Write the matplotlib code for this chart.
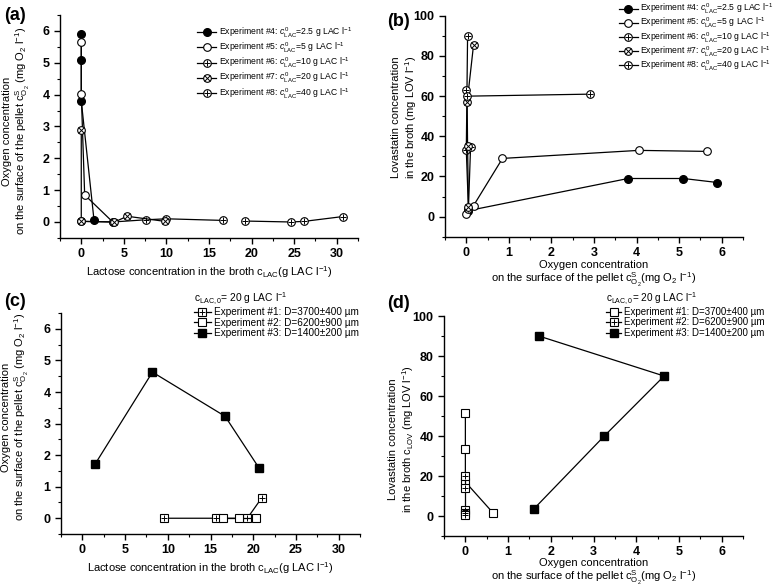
import matplotlib
matplotlib.use("Agg")
import matplotlib.pyplot as plt
from matplotlib.ticker import MultipleLocator
from matplotlib.legend_handler import HandlerTuple

plt.rcParams['font.family'] = ['Liberation Sans', 'DejaVu Sans']
plt.rcParams['mathtext.fontset'] = 'custom'
plt.rcParams['mathtext.rm'] = 'Liberation Sans'
plt.rcParams['mathtext.it'] = 'Liberation Sans:italic'
plt.rcParams['mathtext.bf'] = 'Liberation Sans:bold'

# ---------------- data ----------------
# (a) lactose (x) vs surface oxygen (y)
a_exp4_x = [0, 0, 0, 1.5]
a_exp4_y = [5.9, 5.1, 3.8, 0.05]
a_exp5_x = [0, 0, 0.4, 3.7]
a_exp5_y = [5.65, 4.02, 0.85, 0.0]
a_exp6_x = [0, 3.7, 7.6, 10.0, 16.6]
a_exp6_y = [0.02, 0.0, 0.07, 0.1, 0.05]
a_exp7_x = [0, 0, 3.9, 5.4, 9.8]
a_exp7_y = [2.88, 0.02, 0.0, 0.18, 0.02]
a_exp8_x = [19.2, 24.6, 26.2, 30.7]
a_exp8_y = [0.03, 0.0, 0.02, 0.17]

# (b) surface oxygen (x) vs lovastatin (y)
b_exp4_x = [0.05, 3.8, 5.1, 5.9]
b_exp4_y = [3, 19, 19, 17]
b_exp5_x = [0, 0.17, 0.85, 4.05, 5.65]
b_exp5_y = [1.5, 5.5, 29, 33, 32.5]
b_exp6_x = [0.03, 0, 0.05, 0.1]
b_exp6_y = [90, 33, 4, 34.5]
b_exp7_x = [0.17, 0.02, 0.03, 0.05]
b_exp7_y = [85.5, 57, 35, 5]
b_exp8_x = [0, 0.02, 2.9]
b_exp8_y = [63, 60, 61]

# (c) lactose (x) vs surface oxygen (y), pellet size series
c_exp1_x = [9.5, 15.6, 19.3, 21.0]
c_exp1_y = [0, 0, 0, 0.65]
c_exp2_x = [16.4, 18.3, 20.3]
c_exp2_y = [0, 0, 0]
c_exp3_x = [1.5, 8.2, 16.7, 20.7]
c_exp3_y = [1.72, 4.63, 3.23, 1.58]

# (d) surface oxygen (x) vs lovastatin (y)
d_exp1_x = [0, 0, 0, 0.65]
d_exp1_y = [51.5, 33.5, 17, 1.5]
d_exp2_x = [0, 0, 0, 0, 0]
d_exp2_y = [20, 14, 3, 1.5, 0.5]
d_exp3_x = [1.6, 3.25, 4.65, 1.72]
d_exp3_y = [3.5, 40, 70, 90]

lac_labels = [r'Experiment #4: $c^{0}_{\mathrm{LAC}}$=2.5 g LAC l$^{-1}$',
              r'Experiment #5: $c^{0}_{\mathrm{LAC}}$=5 g LAC l$^{-1}$',
              r'Experiment #6: $c^{0}_{\mathrm{LAC}}$=10 g LAC l$^{-1}$',
              r'Experiment #7: $c^{0}_{\mathrm{LAC}}$=20 g LAC l$^{-1}$',
              r'Experiment #8: $c^{0}_{\mathrm{LAC}}$=40 g LAC l$^{-1}$']
size_labels = [u'Experiment #1: D=3700\u00b1400 \u00b5m',
               u'Experiment #2: D=6200\u00b1900 \u00b5m',
               u'Experiment #3: D=1400\u00b1200 \u00b5m']

ms = 5.5
lw = 0.9


def series(ax, x, y, kind):
    # kind: filled / open / plus / cross / sqopen / sqfill / sqplus
    if kind == 'filled':
        l, = ax.plot(x, y, '-o', color='k', mfc='k', ms=ms, lw=lw)
        return l
    if kind == 'open':
        l, = ax.plot(x, y, '-o', color='k', mfc='white', ms=ms, lw=lw, mew=0.8)
        return l
    if kind == 'sqfill':
        l, = ax.plot(x, y, '-s', color='k', mfc='k', ms=ms, lw=lw)
        return l
    if kind == 'sqopen':
        l, = ax.plot(x, y, '-s', color='k', mfc='white', ms=ms, lw=lw, mew=0.8)
        return l
    base = 's' if kind == 'sqplus' else 'o'
    over = 'x' if kind == 'cross' else '+'
    l1, = ax.plot(x, y, '-' + base, color='k', mfc='white', ms=ms, lw=lw, mew=0.8)
    l2, = ax.plot(x, y, over, color='k', ms=ms - 0.5 if over == '+' else ms - 1.5, mew=0.7, ls='none')
    return (l1, l2)


def style(ax, xmaj, xmin, ymaj, ymin):
    for s in ['top', 'right']:
        ax.spines[s].set_visible(False)
    for s in ['left', 'bottom']:
        ax.spines[s].set_linewidth(1.0)
    ax.xaxis.set_major_locator(MultipleLocator(xmaj))
    ax.xaxis.set_minor_locator(MultipleLocator(xmin))
    ax.yaxis.set_major_locator(MultipleLocator(ymaj))
    ax.yaxis.set_minor_locator(MultipleLocator(ymin))
    ax.tick_params(which='major', direction='out', length=4, width=1, labelsize=9)
    ax.tick_params(which='minor', direction='out', length=2.5, width=0.8)
    for t in ax.get_xticklabels() + ax.get_yticklabels():
        t.set_fontweight('bold')


fig = plt.figure(figsize=(7.73, 5.86), dpi=100)
ax_a = fig.add_axes([0.0776, 0.594, 0.3855, 0.3805])
ax_b = fig.add_axes([0.5757, 0.596, 0.3855, 0.377])
ax_c = fig.add_axes([0.0789, 0.0887, 0.387, 0.377])
ax_d = fig.add_axes([0.5744, 0.0853, 0.387, 0.3754])

oxy_lab = 'Oxygen concentration\non the surface of the pellet c$^{\\mathrm{S}}_{\\mathrm{O_2}}$ (mg O$_2$ l$^{-1}$)'
oxy_xlab = 'Oxygen concentration\non the surface of the pellet c$^{\\mathrm{S}}_{\\mathrm{O_2}}$(mg O$_2$ l$^{-1}$)'
lac_lab = 'Lactose concentration in the broth c$_{\\mathrm{LAC}}$(g LAC l$^{-1}$)'
kinds = ['filled', 'open', 'plus', 'cross', 'plus']
lab_fs = 8.0
leg_kw = dict(handler_map={tuple: HandlerTuple(ndivide=1)}, frameon=False,
              handletextpad=0.3, borderpad=0, loc='upper left', bbox_transform=fig.transFigure)

# ---- (a)
h = []
for (x, y), k in zip([(a_exp4_x, a_exp4_y), (a_exp5_x, a_exp5_y), (a_exp6_x, a_exp6_y),
                      (a_exp7_x, a_exp7_y), (a_exp8_x, a_exp8_y)], kinds):
    h.append(series(ax_a, x, y, k))
ax_a.set_xlim(-2.5, 32.5)
ax_a.set_ylim(-0.5, 6.5)
style(ax_a, 5, 2.5, 1, 0.5)
ax_a.set_xlabel(lac_lab, fontsize=lab_fs, labelpad=3)
ax_a.set_ylabel(oxy_lab, fontsize=lab_fs)
ax_a.yaxis.set_label_coords(-0.094, 0.48)
ax_a.legend(h, lac_labels, bbox_to_anchor=(0.2497, 0.964), fontsize=6.2,
            handlelength=2.2, labelspacing=0.12, **leg_kw)
fig.text(0.005, 0.966, '(a)', fontsize=13, fontweight='bold')

# ---- (b)
h = []
for (x, y), k in zip([(b_exp4_x, b_exp4_y), (b_exp5_x, b_exp5_y), (b_exp6_x, b_exp6_y),
                      (b_exp7_x, b_exp7_y), (b_exp8_x, b_exp8_y)], kinds):
    h.append(series(ax_b, x, y, k))
ax_b.set_xlim(-0.5, 6.5)
ax_b.set_ylim(-10, 100)
style(ax_b, 1, 0.5, 20, 10)
ax_b.set_xlabel(oxy_xlab, fontsize=lab_fs, labelpad=0.5, linespacing=1.1)
ax_b.set_ylabel('Lovastatin concentration\nin the broth (mg LOV l$^{-1}$)', fontsize=lab_fs)
ax_b.yaxis.set_label_coords(-0.087, 0.54)
ax_b.legend(h, lac_labels, bbox_to_anchor=(0.795, 1.004), fontsize=6.2,
            handlelength=2.2, labelspacing=0.0, **leg_kw)
fig.text(0.501, 0.955, '(b)', fontsize=13, fontweight='bold')

# ---- (c)
h = [series(ax_c, c_exp1_x, c_exp1_y, 'sqplus'),
     series(ax_c, c_exp2_x, c_exp2_y, 'sqopen'),
     series(ax_c, c_exp3_x, c_exp3_y, 'sqfill')]
ax_c.set_xlim(-2.5, 32.5)
ax_c.set_ylim(-0.5, 6.5)
style(ax_c, 5, 2.5, 1, 0.5)
ax_c.set_xlabel(lac_lab, fontsize=lab_fs, labelpad=3)
ax_c.set_ylabel(oxy_lab, fontsize=lab_fs)
ax_c.yaxis.set_label_coords(-0.1, 0.53)
leg = ax_c.legend(h, size_labels, title='c$_{\\mathrm{LAC,0}}$= 20 g LAC l$^{-1}$',
                  title_fontsize=7.4, bbox_to_anchor=(0.244, 0.512), fontsize=7.2,
                  handlelength=1.7, labelspacing=0.05, **leg_kw)
leg._legend_box.align = 'left'
leg._legend_box.sep = 0
fig.text(0.005, 0.478, '(c)', fontsize=13, fontweight='bold')

# ---- (d)
h = [series(ax_d, d_exp1_x, d_exp1_y, 'sqopen'),
     series(ax_d, d_exp2_x, d_exp2_y, 'sqplus'),
     series(ax_d, d_exp3_x, d_exp3_y, 'sqfill')]
ax_d.set_xlim(-0.5, 6.5)
ax_d.set_ylim(-10, 100)
style(ax_d, 1, 0.5, 20, 10)
ax_d.set_xlabel(oxy_xlab, fontsize=lab_fs, labelpad=0, linespacing=1.05)
ax_d.set_ylabel('Lovastatin concentration\nin the broth c$_{\\mathrm{LOV}}$ (mg LOV l$^{-1}$)', fontsize=lab_fs)
ax_d.yaxis.set_label_coords(-0.094, 0.44)
leg = ax_d.legend(h, size_labels, title='c$_{\\mathrm{LAC,0}}$= 20 g LAC l$^{-1}$',
                  title_fontsize=7.2, bbox_to_anchor=(0.778, 0.512), fontsize=7.0,
                  handlelength=1.5, labelspacing=0.05, **leg_kw)
leg._legend_box.align = 'left'
leg._legend_box.sep = 0
fig.text(0.501, 0.475, '(d)', fontsize=13, fontweight='bold')

fig.savefig('out.png', dpi=100)
